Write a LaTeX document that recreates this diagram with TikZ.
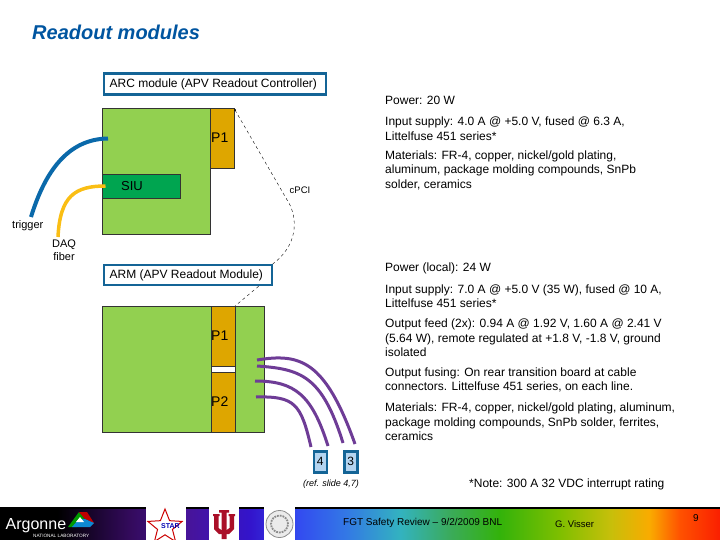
\documentclass[tikz,border=0pt]{standalone}
\usepackage{fontspec}
\setmainfont{Liberation Sans}
\usetikzlibrary{shapes.geometric}

\definecolor{boardgreen}{RGB}{146,208,80}
\definecolor{siugreen}{RGB}{0,165,80}
\definecolor{conorange}{RGB}{222,166,0}
\definecolor{frameblue}{RGB}{20,100,150}
\definecolor{cableblue}{RGB}{10,105,170}
\definecolor{cableyellow}{RGB}{250,190,20}
\definecolor{cablepurple}{RGB}{110,60,150}
\definecolor{titleblue}{RGB}{0,85,160}
\definecolor{lightblue}{RGB}{180,212,240}
\definecolor{iured}{RGB}{170,15,40}

% the bar only shows the part from 25bp to 75bp
\pgfdeclarehorizontalshading{footerbar}{100bp}{
	rgb(0bp)=(0,0,0);
	rgb(25bp)=(0,0,0);
	rgb(29bp)=(0,0,0);
	rgb(34bp)=(.2,.04,.36);
	rgb(38bp)=(.28,.08,.6);
	rgb(42.4bp)=(.2,.08,.8);
	rgb(45.8bp)=(.2,.3,.94);
	rgb(49bp)=(.2,.47,.9);
	rgb(52.8bp)=(.2,.7,.75);
	rgb(56.3bp)=(.23,.67,.35);
	rgb(59.7bp)=(.2,.7,.04);
	rgb(63.9bp)=(.5,.75,0);
	rgb(67.4bp)=(.78,.75,.04);
	rgb(70.1bp)=(.98,.67,0);
	rgb(72.2bp)=(1,.32,0);
	rgb(75bp)=(.98,.12,0);
	rgb(100bp)=(.98,.12,0)}

\tikzset{
	txt/.style={anchor=west,inner sep=0pt,font=\fontsize{12}{14.5}\selectfont},
	labelbox/.style={draw=frameblue,line width=2.2pt,fill=white,anchor=north west,inner ysep=0pt,inner xsep=6pt,align=flush left,font=\fontsize{12}{14}\selectfont},
	board/.style={draw=black!80,line width=0.6pt,fill=boardgreen,anchor=north west,inner sep=0pt},
	conn/.style={draw=black!80,line width=0.6pt,fill=conorange,anchor=north west,inner sep=0pt},
	cable/.style={line width=3pt},
	numbox/.style={draw=frameblue,line width=2.6pt,fill=lightblue,anchor=north west,inner sep=0pt,minimum width=13pt,minimum height=21pt,font=\fontsize{12}{14}\selectfont},
	logo/.style={fill=white,anchor=north west,inner sep=0pt,minimum height=33pt}
}

\begin{document}
\begin{tikzpicture}[x=1pt,y=-1pt]
		\useasboundingbox (0,0) rectangle (720,540);
		\node[anchor=west,inner sep=0pt,text=titleblue,font=\fontsize{20}{24}\selectfont\bfseries\itshape] (title) at (32,32) {Readout modules};
		
		% ARC
		\node[labelbox,text width=210pt,minimum height=21pt] (arcbox) at (102.5,72.5) {ARC module (APV Readout Controller)};
		\node[board,minimum width=108pt,minimum height=126pt] (arc) at (102,108) {};
		\node[conn,minimum width=24pt,minimum height=60pt] (arcP) at (210,108) {};
		\node[board,fill=siugreen,minimum width=78pt,minimum height=24pt] (siu) at (102,174) {};
		\node[font=\fontsize{13}{15}\selectfont] (siutxt) at (132,186) {SIU};
		\node[txt,font=\fontsize{14}{16}\selectfont] (arcPtxt) at (211,138) {P1};
		
		% ARM
		\node[labelbox,text width=156pt,minimum height=20pt] (armbox) at (102.5,264) {ARM (APV Readout Module)};
		\node[board,minimum width=162pt,minimum height=126pt] (arm) at (102,306) {};
		\node[conn,minimum width=24pt,minimum height=60pt] (armP) at (210.5,306) {};
		\node[conn,minimum width=24pt,minimum height=60pt] (armQ) at (210.5,372) {};
		\node[draw=black!80,line width=0.6pt,fill=white,anchor=north west,inner sep=0pt,minimum width=24pt,minimum height=6pt] (gap) at (210.5,366) {};
		\node[txt,font=\fontsize{14}{16}\selectfont] (armPtxt) at (211,336) {P1};
		\node[txt,font=\fontsize{14}{16}\selectfont] (armQtxt) at (211,402) {P2};
		
		\node[numbox] (four) at (312.5,450) {4};
		\node[numbox] (three) at (343,450) {3};
		\node[font=\fontsize{9}{11}\selectfont\itshape] (ref) at (331,484) {(ref. slide 4,7)};
		
		% cables
		\coordinate (trigend) at (31,217);
		\coordinate (trigin) at (108,138.5);
		\coordinate (daqend) at (58,237);
		\coordinate (daqin) at (105.5,186);
		\draw[cable,line width=4pt,cableblue] (trigin) .. controls (72,139) and (47,165) .. (trigend);
		\draw[cable,line width=3.5pt,cableyellow] (daqin) .. controls (75,186) and (60,196) .. (daqend);
		
		\coordinate (a1) at (257,360);
		\coordinate (a2) at (257,366);
		\coordinate (a3) at (255,381);
		\coordinate (a4) at (256,397);
		\coordinate (b1) at (355,444);
		\coordinate (b2) at (343,443);
		\coordinate (b3) at (328,446);
		\coordinate (b4) at (311,447);
		\draw[cable,cablepurple] (a1) .. controls (300,353) and (325,360) .. (b1);
		\draw[cable,cablepurple] (a2) .. controls (300,369) and (322,375) .. (b2);
		\draw[cable,cablepurple] (a3) .. controls (295,381) and (312,395) .. (b3);
		\draw[cable,cablepurple] (a4) .. controls (295,396) and (301,404) .. (b4);
		
		% cPCI
		\coordinate (pcitop) at (235,110);
		\coordinate (pcimid) at (290,205);
		\draw[dashed,line width=0.4pt] (pcitop) -- (pcimid) .. controls (297,220) and (298,245) .. (armbox.north east);
		\draw[dashed,line width=0.4pt] (armbox.south east) ++(-14,0) -- (arm.north east -| armP.north east);
		\fill (pcitop) circle (1pt);
		\node[font=\fontsize{9.5}{11}\selectfont] (pci) at (300,190) {cPCI};
		
		\node[txt,font=\fontsize{11}{13}\selectfont] (trig) at (12,226) {trigger};
		\node[align=center,inner sep=0pt,font=\fontsize{11}{13}\selectfont] (daq) at (64,250.5) {DAQ\\fiber};
		
		% text on the right
		\node[txt] (t1) at (385,100) {Power: 20 W};
		\node[txt,align=left] (t2) at (385,128.5) {Input supply: 4.0 A @ +5.0 V, fused @ 6.3 A,\\Littelfuse 451 series*};
		\node[txt,align=left] (t3) at (385,170) {Materials: FR-4, copper, nickel/gold plating,\\aluminum, package molding compounds, SnPb\\solder, ceramics};
		\node[txt] (t4) at (385,268) {Power (local): 24 W};
		\node[txt,align=left] (t5) at (385,296) {Input supply: 7.0 A @ +5.0 V (35 W), fused @ 10 A,\\Littelfuse 451 series*};
		\node[txt,align=left] (t6) at (385,338) {Output feed (2x): 0.94 A @ 1.92 V, 1.60 A @ 2.41 V\\(5.64 W), remote regulated at +1.8 V, -1.8 V, ground\\isolated};
		\node[txt,align=left] (t7) at (385,380) {Output fusing: On rear transition board at cable\\connectors. Littelfuse 451 series, on each line.};
		\node[txt,align=left] (t8) at (385,422) {Materials: FR-4, copper, nickel/gold plating, aluminum,\\package molding compounds, SnPb solder, ferrites,\\ceramics};
		\node[txt] (t9) at (469,484.5) {*Note: 300 A 32 VDC interrupt rating};
		
		% footer
		\shade[shading=footerbar] (0,508) rectangle (720,540);
		\fill[black] (0,507) rectangle (720,508.5);
		\node[logo,minimum width=40pt] (logoa) at (146,507) {};
		\node[logo,minimum width=30pt] (logob) at (209,507) {};
		\node[logo,minimum width=31pt] (logoc) at (264,507) {};
		\node[star,star points=5,star point ratio=2.3,draw=red!80!black,line width=1pt,minimum size=36pt,inner sep=0pt] (starlogo) at (165,527) {};
		\node[text=blue!70!black,font=\fontsize{7}{8}\selectfont\bfseries] (startxt) at (170.5,526) {STAR};
		% IU
		\fill[iured] (219,510) -- (229,510) -- (229,512.5) -- (226.5,512.5) -- (226.5,539) -- (221.5,539) -- (221.5,512.5) -- (219,512.5) -- cycle;
		\fill[iured] (213,514) -- (219.5,514) -- (219.5,516) -- (218.5,516) -- (218.5,528) -- (221.5,530) -- (226.5,530) -- (229.5,528) -- (229.5,516) -- (228.5,516) -- (228.5,514) -- (235,514) -- (235,516) -- (234,516) -- (234,529) -- (229,534) -- (219,534) -- (214,529) -- (214,516) -- (213,516) -- cycle;
		\node[circle,draw=black!45,fill=black!8,line width=0.8pt,minimum size=27pt,inner sep=0pt] (seal) at (279.5,524) {};
		\node[circle,draw=black!45,densely dotted,line width=1.8pt,minimum size=17pt,inner sep=0pt] (sealin) at (279.5,524) {};
		\node[txt,text=white,font=\fontsize{16}{18}\selectfont] (anl) at (5.5,525.5) {Argonne};
		\node[txt,text=white,font=\fontsize{4.7}{5}\selectfont] (anlsub) at (33,536) {NATIONAL LABORATORY};
		\fill[green!60!black] (68,527) -- (79,512) -- (85,519) -- (77,527) -- cycle;
		\fill[red!75!black] (79,512) -- (87,512) -- (94,523) -- (85,519) -- cycle;
		\fill[cyan!70!blue] (72,527) -- (79,519) -- (85,519) -- (94,523) -- (90,527) -- cycle;
		\fill[white] (76,522) -- (80,517) -- (84,522) -- cycle;
		\node[txt,font=\fontsize{10}{12}\selectfont] (fgt) at (343,523) {FGT Safety Review -- 9/2/2009 BNL};
		\node[txt,font=\fontsize{9.5}{11}\selectfont] (auth) at (555,524) {G. Visser};
		\node[font=\fontsize{10}{12}\selectfont] (pageno) at (696,518) {9};
		
	\end{tikzpicture}
\end{document}
